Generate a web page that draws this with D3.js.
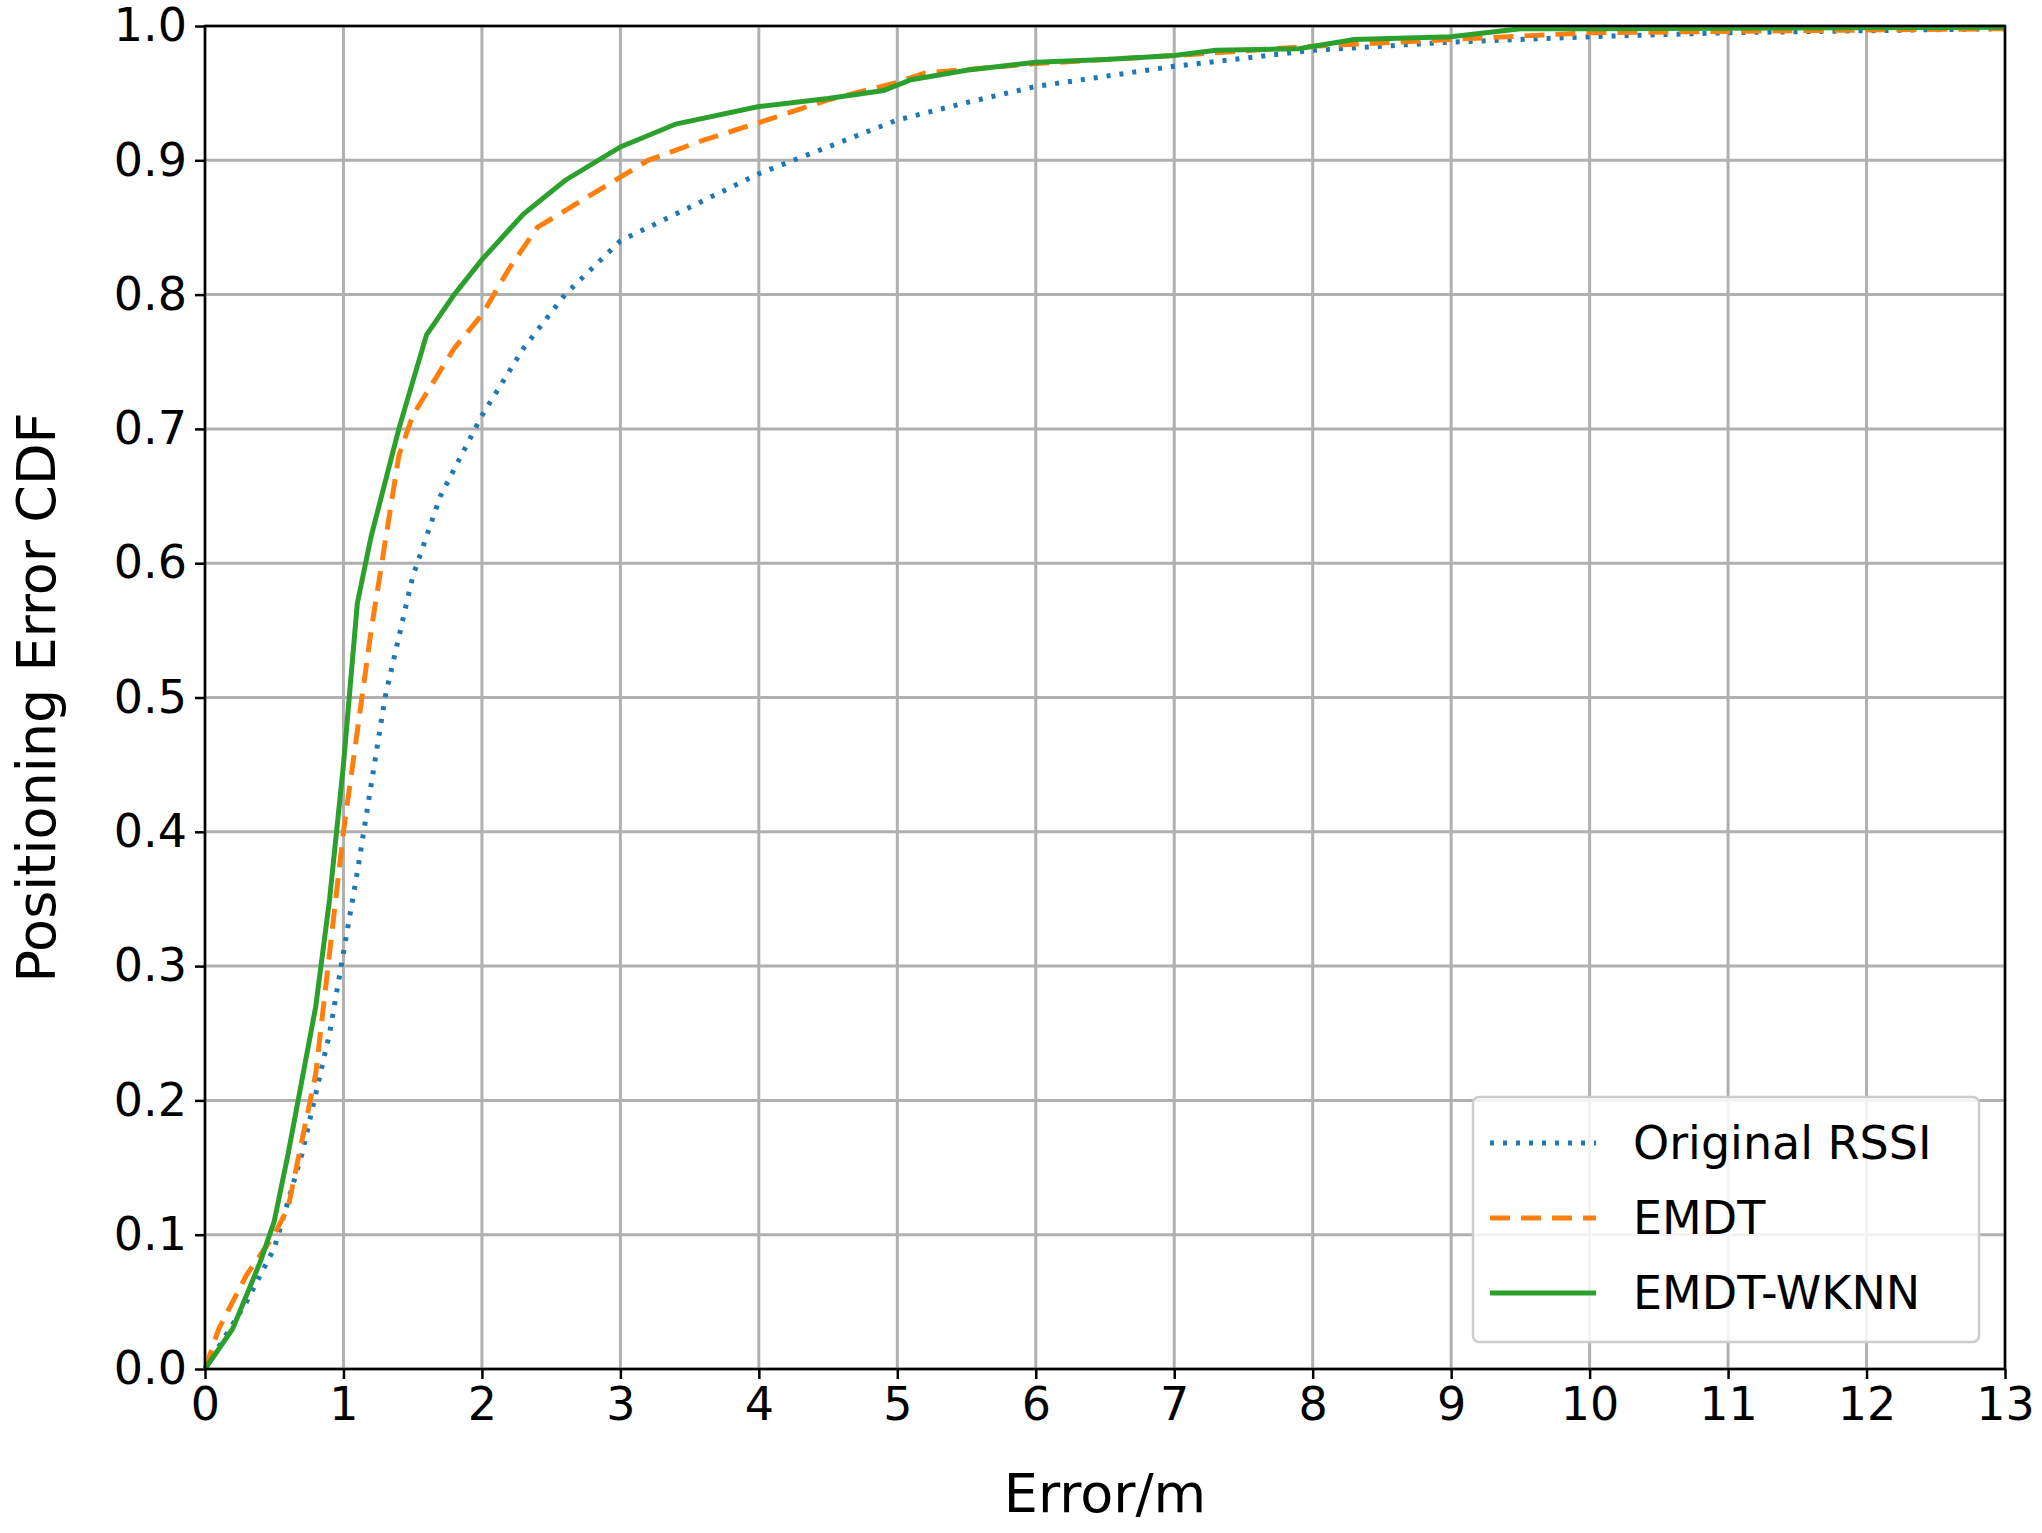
<html><head>
<meta charset="utf-8">
<style>body{margin:0;background:#fff} text{font-family:"DejaVu Sans",sans-serif}</style>
</head>
<body>
<script src="https://d3js.org/d3.v7.min.js"></script>
<script>
var seriesNames = ["Original RSSI", "EMDT", "EMDT-WKNN"];
var seriesColors = ["#1f77b4", "#ff7f0e", "#2ca02c"];
var xTicks = [0,1,2,3,4,5,6,7,8,9,10,11,12,13];
var yTicks = [0,0.1,0.2,0.3,0.4,0.5,0.6,0.7,0.8,0.9,1.0];

var originalRssi = [[0,0],[0.3,0.05],[0.5,0.09],[0.7,0.16],[0.9,0.25],[1.1,0.37],[1.3,0.5],[1.5,0.59],[1.7,0.65],[2.0,0.71],[2.3,0.76],[2.6,0.8],[3,0.84],[3.5,0.865],[4,0.89],[4.5,0.91],[5,0.93],[5.5,0.943],[6,0.955],[7,0.97],[8,0.982],[9,0.988],[10,0.992],[11,0.995],[13,0.998]];
var emdt = [[0,0],[0.1,0.03],[0.3,0.07],[0.5,0.1],[0.6,0.12],[0.8,0.22],[1.0,0.4],[1.2,0.55],[1.4,0.68],[1.5,0.71],[1.8,0.76],[2.0,0.785],[2.2,0.82],[2.4,0.85],[2.8,0.875],[3.2,0.9],[3.6,0.915],[4,0.928],[4.5,0.945],[5,0.958],[5.2,0.965],[6,0.972],[7,0.978],[8,0.985],[9,0.99],[10,0.995],[13,0.998]];
var emdtWknn = [[0,0],[0.2,0.03],[0.4,0.08],[0.5,0.11],[0.6,0.16],[0.8,0.27],[0.9,0.35],[1.0,0.45],[1.1,0.57],[1.2,0.62],[1.4,0.7],[1.6,0.77],[1.8,0.8],[2.0,0.826],[2.3,0.86],[2.6,0.885],[3.0,0.91],[3.4,0.927],[4,0.94],[4.5,0.946],[4.9,0.952],[5.1,0.96],[5.5,0.967],[6,0.973],[6.5,0.975],[7,0.978],[7.3,0.982],[7.9,0.983],[8.3,0.99],[9,0.992],[9.5,0.998],[10,0.998],[13,0.999]];
var allSeries = [originalRssi, emdt, emdtWknn];
var dashes = ["4,9", "20,11", null];

var W = 2042, H = 1533;
var m = {left:205, right:2005, top:26, bottom:1369};

var svg = d3.select("body").append("svg").attr("width", W).attr("height", H);
var x = d3.scaleLinear().domain([0,13]).range([m.left, m.right]);
var y = d3.scaleLinear().domain([0,1]).range([m.bottom, m.top]);

// grid
svg.append("g").selectAll("line").data(xTicks).enter().append("line")
  .attr("x1", d => x(d)).attr("x2", d => x(d)).attr("y1", m.top).attr("y2", m.bottom)
  .attr("stroke", "#b0b0b0").attr("stroke-width", 3);
svg.append("g").selectAll("line").data(yTicks).enter().append("line")
  .attr("y1", d => y(d)).attr("y2", d => y(d)).attr("x1", m.left).attr("x2", m.right)
  .attr("stroke", "#b0b0b0").attr("stroke-width", 3);

var xAxis = svg.append("g").attr("transform", "translate(0," + m.bottom + ")")
  .call(d3.axisBottom(x).tickValues(xTicks).tickSize(10).tickPadding(8).tickFormat(d3.format("d")));
var yAxis = svg.append("g").attr("transform", "translate(" + m.left + ",0)")
  .call(d3.axisLeft(y).tickValues(yTicks).tickSize(10).tickPadding(8).tickFormat(d3.format(".1f")));
[xAxis, yAxis].forEach(function(a){
  a.select(".domain").remove();
  a.selectAll("line").attr("stroke-width", 2.5);
  a.selectAll("text").attr("font-size", 46).attr("fill", "#000");
});

var line = d3.line().x(d => x(d[0])).y(d => y(d[1]));
allSeries.forEach(function(s, i){
  svg.append("path").datum(s).attr("d", line).attr("fill", "none")
    .attr("stroke", seriesColors[i]).attr("stroke-width", 5)
    .attr("stroke-dasharray", dashes[i]);
});

svg.append("rect").attr("x", m.left).attr("y", m.top)
  .attr("width", m.right - m.left).attr("height", m.bottom - m.top)
  .attr("fill", "none").attr("stroke", "#000").attr("stroke-width", 2.5);

// legend
var lg = svg.append("g");
lg.append("rect").attr("x", 1473).attr("y", 1097).attr("width", 506).attr("height", 245)
  .attr("rx", 6).attr("fill", "#fff").attr("fill-opacity", 0.85).attr("stroke", "#ccc").attr("stroke-width", 2.5);
seriesNames.forEach(function(n, i){
  var yy = 1143 + i * 75;
  lg.append("line").attr("x1", 1490).attr("x2", 1596).attr("y1", yy).attr("y2", yy)
    .attr("stroke", seriesColors[i]).attr("stroke-width", 5).attr("stroke-dasharray", dashes[i]);
  lg.append("text").attr("x", 1633).attr("y", yy + 16).attr("font-size", 46).text(n);
});

svg.append("text").attr("x", (m.left + m.right) / 2).attr("y", 1512)
  .attr("text-anchor", "middle").attr("font-size", 54).text("Error/m");
svg.append("text").attr("transform", "translate(55," + (m.top + m.bottom) / 2 + ") rotate(-90)")
  .attr("text-anchor", "middle").attr("font-size", 54).text("Positioning Error CDF");
</script>
</body></html>
